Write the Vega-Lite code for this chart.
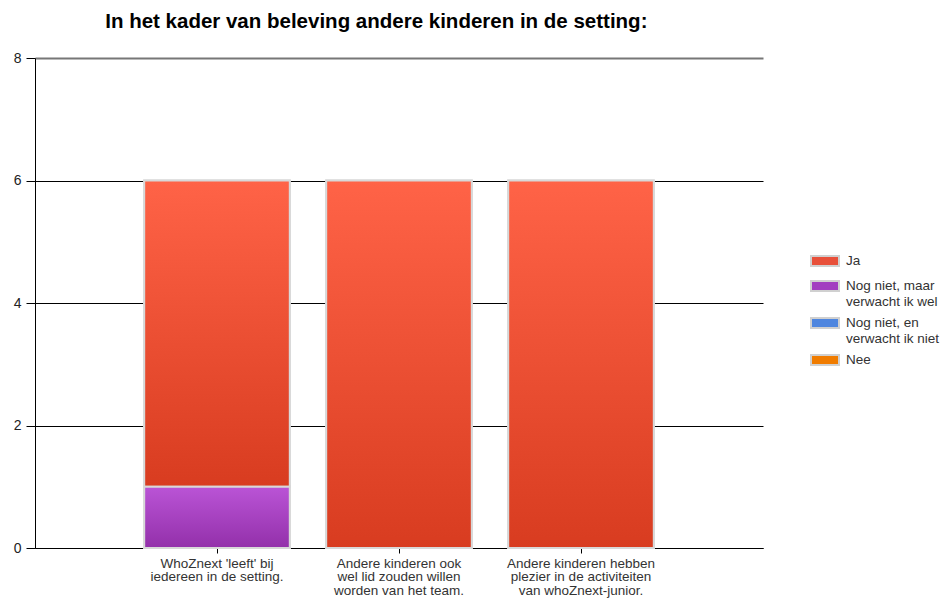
{
  "$schema": "https://vega.github.io/schema/vega-lite/v6.json",
  "autosize": "none",
  "width": 728,
  "height": 490,
  "padding": {"left": 35, "top": 58, "right": 183, "bottom": 50},
  "background": "white",
  "config": {
    "font": "Liberation Sans",
    "view": {"stroke": null}
  },
  "title": {
    "text": "In het kader van beleving andere kinderen in de setting:",
    "anchor": "start",
    "dx": 92,
    "offset": 19,
    "fontSize": 20.5,
    "fontWeight": "bold",
    "color": "#000000",
    "font": "Liberation Sans"
  },
  "data": {
    "values": [
      {"vraag": "WhoZnext 'leeft' bij\niedereen in de setting.", "antwoord": "Ja", "aantal": 5},
      {"vraag": "WhoZnext 'leeft' bij\niedereen in de setting.", "antwoord": "Nog niet, maar verwacht ik wel", "aantal": 1},
      {"vraag": "Andere kinderen ook\nwel lid zouden willen\nworden van het team.", "antwoord": "Ja", "aantal": 6},
      {"vraag": "Andere kinderen hebben\nplezier in de activiteiten\nvan whoZnext-junior.", "antwoord": "Ja", "aantal": 6}
    ]
  },
  "encoding": {
    "x": {
      "field": "vraag",
      "type": "nominal",
      "sort": null,
      "scale": {"paddingInner": 0.2, "paddingOuter": 0.6},
      "axis": {
        "title": null,
        "labelAngle": 0,
        "labelExpr": "split(datum.label, '\\n')",
        "labelFontSize": 13.5,
        "labelColor": "#333333",
        "labelLineHeight": 13.5,
        "labelPadding": 3,
        "labelLimit": 300,
        "domainColor": "#000000",
        "tickColor": "#000000",
        "tickSize": 5,
        "grid": false
      }
    },
    "y": {
      "field": "aantal",
      "type": "quantitative",
      "aggregate": "sum",
      "scale": {"domain": [0, 8], "nice": false},
      "axis": {
        "title": null,
        "values": [0, 2, 4, 6, 8],
        "labelFontSize": 14,
        "labelColor": "#222222",
        "labelPadding": 5,
        "domainColor": "#000000",
        "tickColor": "#000000",
        "tickSize": 9,
        "grid": true,
        "gridColor": {"condition": {"test": "datum.value === 8", "value": "#777777"}, "value": "#000000"},
        "gridWidth": {"condition": {"test": "datum.value === 8", "value": 2}, "value": 1},
        "gridOpacity": 1
      }
    },
    "order": {"field": "antwoord", "sort": "descending"}
  },
  "layer": [
    {
      "mark": {"type": "bar", "stroke": "#D8D8D8", "strokeWidth": 2},
      "encoding": {
        "color": {
          "field": "antwoord",
          "type": "nominal",
          "scale": {
            "domain": ["Ja", "Nog niet, maar verwacht ik wel", "Nog niet, en verwacht ik niet", "Nee"],
            "range": ["#E8503A", "#A23EC0", "#4F86DF", "#F07C00"]
          },
          "legend": {
            "title": null,
            "orient": "none",
            "legendX": 775,
            "legendY": 188,
            "labelExpr": "datum.label == 'Nog niet, maar verwacht ik wel' ? ['Nog niet, maar', 'verwacht ik wel'] : datum.label == 'Nog niet, en verwacht ik niet' ? ['Nog niet, en', 'verwacht ik niet'] : datum.label",
            "labelFontSize": 13.5,
            "labelColor": "#333333",
            "labelLimit": 200,
            "symbolType": "M-1,-0.36H1V0.36H-1Z",
            "symbolSize": 784,
            "symbolStrokeColor": "#D0D0D0",
            "symbolStrokeWidth": 2,
            "symbolOpacity": 1,
            "rowPadding": -2,
            "labelOffset": 6
          }
        }
      }
    },
    {
      "mark": {"type": "bar", "stroke": "#D8D8D8", "strokeWidth": 2},
      "encoding": {
        "color": {
          "condition": {
            "test": "datum.antwoord === 'Ja'",
            "value": {
              "gradient": "linear", "x1": 0, "y1": 0, "x2": 0, "y2": 1,
              "stops": [{"offset": 0, "color": "#FF6347"}, {"offset": 1, "color": "#D83C20"}]
            }
          },
          "value": {
            "gradient": "linear", "x1": 0, "y1": 0, "x2": 0, "y2": 1,
            "stops": [{"offset": 0, "color": "#BA54D6"}, {"offset": 1, "color": "#9330AA"}]
          }
        }
      }
    }
  ]
}
